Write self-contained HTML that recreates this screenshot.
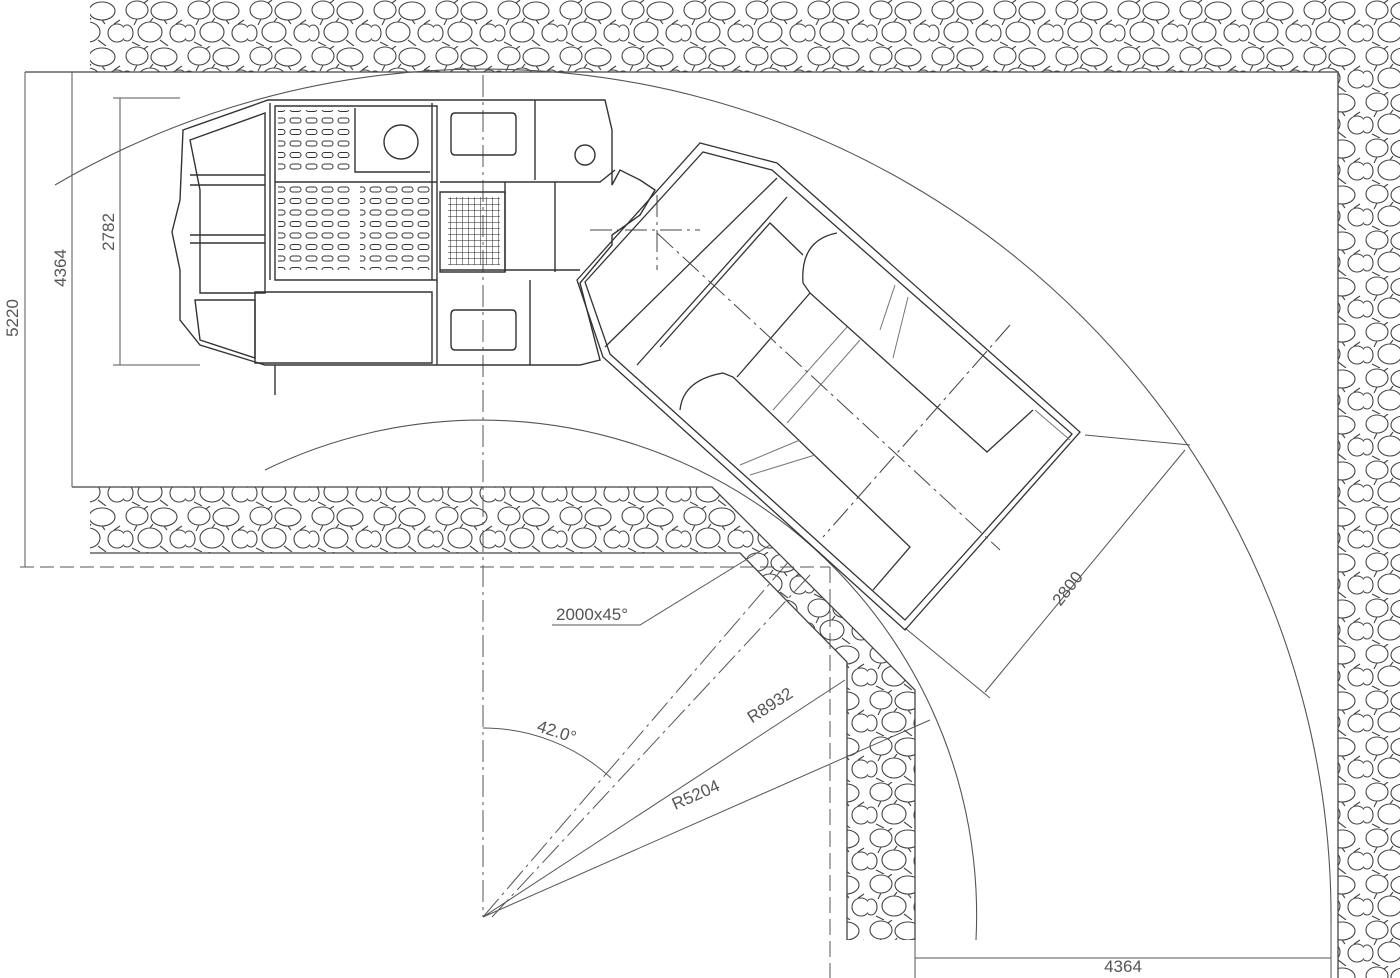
<!DOCTYPE html>
<html><head><meta charset="utf-8"><style>
html,body{margin:0;padding:0;background:#fff;}
svg{display:block;}
text{font-family:"Liberation Sans",sans-serif;fill:#555;font-size:17px;}
</style></head><body>
<svg width="1400" height="978" viewBox="0 0 1400 978" xmlns="http://www.w3.org/2000/svg">
<defs>
<pattern id="rock" width="62" height="46" patternUnits="userSpaceOnUse">
<g fill="none" stroke="#444" stroke-width="1.1">
<ellipse cx="13" cy="10" rx="11" ry="9"/>
<ellipse cx="40" cy="11" rx="13" ry="9"/>
<ellipse cx="26" cy="32" rx="12" ry="10"/>
<ellipse cx="55" cy="33" rx="9" ry="9"/>
<ellipse cx="3" cy="33" rx="6" ry="8"/>
<path d="M13 19 L10 25 M40 20 L43 24 M26 22 L29 18 M52 24 L58 20 M36 40 L44 46 M8 42 L16 46 M20 3 L24 0"/>
</g>
</pattern>
<pattern id="slots" width="16" height="11.5" patternUnits="userSpaceOnUse">
<rect x="2" y="3" width="11" height="5" rx="2.5" fill="none" stroke="#333" stroke-width="1"/>
</pattern>
<pattern id="grate" width="6" height="6" patternUnits="userSpaceOnUse">
<path d="M0 0H6M0 0V6" stroke="#222" stroke-width="1"/>
</pattern>
</defs>

<path d="M90 0 H1400 V978 H1338 V72 H90 Z" fill="url(#rock)"/>
<path d="M90 487 H712 L915 690 V940 H847 V662 L740 553 H90 Z" fill="url(#rock)"/>
<g stroke="#444" stroke-width="1.3" fill="none">
<path d="M25 72 H1338 V978"/>
<path d="M72 487 H712 L915 690 V940"/>
<path d="M90 553 H740 L847 662 V940"/>
</g>

<g fill="none" stroke="#555" stroke-width="1.1">
<path d="M55 185 A848 848 0 0 1 1331 925"/>
<path d="M265 470 A495 495 0 0 1 976 940"/>
</g>

<g stroke="#555" stroke-width="1" fill="none">
<path d="M25 72 V567"/>
<path d="M72 72 V487"/>
<path d="M120 98 V365 M113 98 H180 M113 365 H200"/>
<path d="M20 567 H830" stroke-dasharray="14 6"/>
<path d="M483 75 V917" stroke-dasharray="22 5 3 5"/>
<path d="M830 567 V978" stroke-dasharray="16 6"/>
<path d="M915 940 V978 M1331 925 V978 M915 958 H1331"/>
<path d="M483 917 L845 680 M483 917 L930 720"/>
<path d="M483 917 L790 560 M492 917 L810 575" stroke-dasharray="24 5 3 5"/>
<path d="M483 728 A189 189 0 0 1 611 778"/>
<path d="M552 625 H640 L770 545"/>
<path d="M1185 450 L985 692 M905 628 L990 698 M1085 435 L1190 445"/>
</g>

<text transform="translate(18,318) rotate(-90)" text-anchor="middle">5220</text>
<text transform="translate(66,268) rotate(-90)" text-anchor="middle">4364</text>
<text transform="translate(114,232) rotate(-90)" text-anchor="middle">2782</text>
<text x="1123" y="972" text-anchor="middle">4364</text>
<text x="556" y="620">2000x45°</text>
<text transform="translate(555,737) rotate(18)" text-anchor="middle">42.0°</text>
<text transform="translate(773,710) rotate(-33)" text-anchor="middle">R8932</text>
<text transform="translate(698,800) rotate(-24)" text-anchor="middle">R5204</text>
<text transform="translate(1072,592) rotate(-52)" text-anchor="middle">2800</text>

<g stroke="#333" stroke-width="1.4" fill="none">
<path d="M183 130 L268 100 H605 L612 130 V185 L620 170 L640 180 L655 190 L640 215 L612 235 V245 L580 283 L600 360 L580 365 H265 L200 345 L180 320 V270 L172 232 L180 200 Z"/>
<path d="M190 140 L265 113 V293 H200 V190 Z"/>
<path d="M195 300 H255 V358 L200 340 Z"/>
<path d="M255 292 H432 V363 H255 Z"/>
<path d="M270 103 V280 M432 103 V280"/>
<path d="M275 106 H437 V280 H275 Z"/>
<path d="M355 108 V172 H430 M275 182 H437"/>
<path d="M190 175 H265 M190 185 H265 M190 235 H265 M190 243 H265"/>
<path d="M440 182 H600 L615 170 M440 270 H580"/>
<path d="M440 192 H505 V272 H440 Z"/>
<path d="M505 182 V272 M555 182 V272"/>
<path d="M455 113 H512 Q516 113 516 118 V150 Q516 155 512 155 H455 Q451 155 451 150 V118 Q451 113 455 113 Z"/>
<path d="M455 310 H512 Q516 310 516 315 V345 Q516 350 512 350 H455 Q451 350 451 345 V315 Q451 310 455 310 Z"/>
<path d="M535 100 V180 M530 280 V365 M437 280 V365"/>
<circle cx="401" cy="142" r="17"/>
<circle cx="585" cy="155" r="10"/>
<path d="M275 365 V395"/>
</g>
<rect x="278" y="110" width="75" height="60" fill="url(#slots)"/>
<rect x="278" y="186" width="75" height="84" fill="url(#slots)"/>
<rect x="360" y="186" width="72" height="84" fill="url(#slots)"/>
<rect x="448" y="197" width="52" height="68" fill="url(#grate)"/>

<!-- dump body -->
<g stroke="#333" stroke-width="1.3" fill="none">
<path d="M577 280 L700 143 L777 163 L1080 432 L905 630 L603 357 Z"/>
<path d="M585 282 L703 152 L772 170 L1072 434 L905 620 L610 354 Z"/>
<path d="M605 347 L777 178 M637 365 L787 197"/>
<path d="M660 347 L770 223 L803 255"/>
<path d="M803 283 Q800 240 837 233"/>
<path d="M803 283 L810 293 L987 452 L1033 410"/>
<path d="M810 293 L737 377"/>
<path d="M680 410 Q683 380 723 373 L733 377 L910 547 L873 590"/>
</g>
<g stroke="#777" stroke-width="1" fill="none">
<path d="M847 327 L773 410 M860 340 L787 423"/>
<path d="M895 285 L880 330 M908 297 L893 358"/>
<path d="M740 465 L800 440 M750 475 L815 455"/>
<path d="M1035 410 L1070 440"/>
</g>
<g stroke="#444" stroke-width="1" fill="none" stroke-dasharray="22 5 3 5">
<path d="M657 233 L1000 550"/>
<path d="M1010 325 L823 537"/>
<path d="M590 230 H700 M657 195 V270"/>
</g>
</svg>
</body></html>
